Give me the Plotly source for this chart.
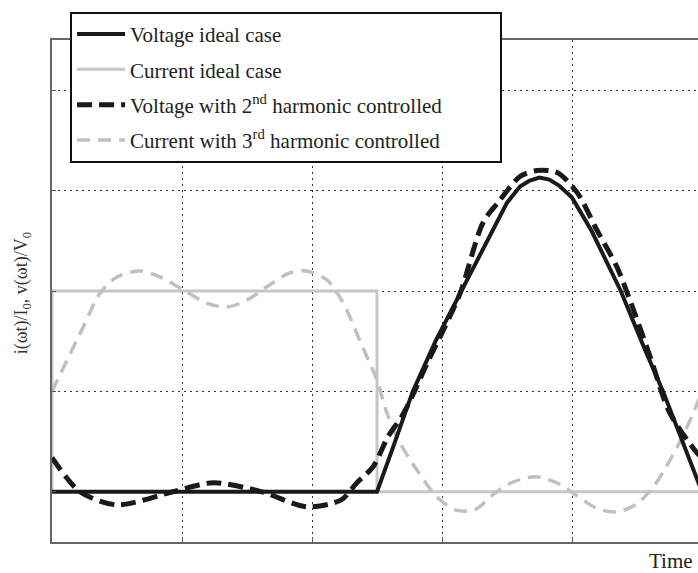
import plotly.graph_objects as go

# Time axis in arbitrary units (one period = 10), values normalised
v_ideal_x = [0, 5.0, 5.25, 5.55, 5.9, 6.3, 6.7, 7.0, 7.2, 7.35, 7.5, 7.65, 7.8, 8.0, 8.3, 8.75, 9.1, 9.4, 9.7, 10]
v_ideal_y = [0, 0, 0.45, 1.0, 1.5, 2.0, 2.5, 2.88, 3.04, 3.1, 3.13, 3.11, 3.05, 2.93, 2.6, 2.0, 1.45, 1.0, 0.5, 0]

i_ideal_x = [0, 0, 5.0, 5.0, 10]
i_ideal_y = [0, 2, 2, 0, 0]

v_h2_x = [0, 0.43, 1.0, 1.86, 2.48, 3.23, 3.92, 4.45, 4.69, 4.94, 5.17, 5.38, 5.54, 5.77, 6.02, 6.28,
          6.63, 6.86, 7.2, 7.46, 7.77, 8.08, 8.38, 8.69, 8.85, 9.2, 9.5, 9.92, 10]
v_h2_y = [0.34, 0.0, -0.13, 0.0, 0.09, 0.0, -0.15, -0.08, 0.09, 0.25, 0.55, 0.75, 0.95, 1.28, 1.61, 1.98,
          2.68, 2.88, 3.14, 3.2, 3.18, 2.98, 2.61, 2.24, 1.98, 1.35, 0.79, 0.39, 0.34]

i_h3_x = [0, 0.23, 0.48, 0.74, 1.0, 1.35, 1.66, 2.02, 2.38, 2.69, 3.0, 3.3, 3.66, 3.92, 4.23, 4.48, 4.78,
          5.0, 5.15, 5.35, 5.61, 5.92, 6.2, 6.5, 6.8, 7.1, 7.45, 7.8, 8.05, 8.4, 8.7, 9.0, 9.25, 9.45, 9.7, 9.94, 10]
i_h3_y = [1.0, 1.31, 1.64, 1.98, 2.14, 2.2, 2.14, 2.01, 1.88, 1.84, 1.91, 2.04, 2.18, 2.2, 2.11, 1.88, 1.44,
          1.11, 0.79, 0.49, 0.22, -0.05, -0.18, -0.18, -0.02, 0.1, 0.15, 0.08, -0.03, -0.17, -0.2, -0.12, 0.05, 0.25, 0.55, 0.9, 1.0]

names = ["Voltage ideal case", "Current ideal case",
         "Voltage with 2<sup>nd</sup> harmonic controlled" + "&nbsp;" * 10,
         "Current with 3<sup>rd</sup> harmonic controlled"]

fig = go.Figure()
# draw order: currents below voltages, legend order as in reference
fig.add_trace(go.Scatter(x=i_ideal_x, y=i_ideal_y, mode="lines", name=names[1], legendrank=2, legendgroup="b",
                         line=dict(color="#c6c6c6", width=3)))
fig.add_trace(go.Scatter(x=i_h3_x, y=i_h3_y, mode="lines", name=names[3], legendrank=4, legendgroup="d",
                         line=dict(color="#c0c0c0", width=3.5, dash="13px,8px", shape="spline", smoothing=0.8)))
fig.add_trace(go.Scatter(x=v_ideal_x, y=v_ideal_y, mode="lines", name=names[0], legendrank=1, legendgroup="a",
                         line=dict(color="#1a1a1a", width=4)))
fig.add_trace(go.Scatter(x=v_h2_x, y=v_h2_y, mode="lines", name=names[2], legendrank=3, legendgroup="c",
                         line=dict(color="#1a1a1a", width=5, dash="15px,7px", shape="spline", smoothing=0.8)))

fig.update_layout(
    width=698, height=573,
    margin=dict(l=52, r=0, t=40, b=31),
    paper_bgcolor="white", plot_bgcolor="white",
    font=dict(family="Liberation Serif", color="#222"),
    showlegend=True,
    legend=dict(x=0.028, y=1.056, xanchor="left", yanchor="top",
                bgcolor="white", bordercolor="#111", borderwidth=2,
                font=dict(family="Liberation Serif", size=21, color="#222"),
                tracegroupgap=5, itemwidth=48, traceorder="grouped"),
    xaxis=dict(range=[0, 9.938], dtick=2, tick0=0, showgrid=True, gridcolor="#333", gridwidth=1,
               griddash="2px,4px", showticklabels=False, ticks="inside", ticklen=5, tickcolor="#555",
               showline=True, linecolor="#666", linewidth=1.5, mirror=True, zeroline=False),
    yaxis=dict(range=[-0.5, 4.5], dtick=1, tick0=0, showgrid=True, gridcolor="#333", gridwidth=1,
               griddash="2px,4px", showticklabels=False, ticks="inside", ticklen=4, tickcolor="#555",
               showline=True, linecolor="#666", linewidth=1.5, zeroline=False),
    annotations=[
        dict(text="i(ωt)/I<sub>0</sub>, v(ωt)/V<sub>0</sub>", xref="paper", yref="paper",
             x=-0.046, y=0.496, textangle=-90, showarrow=False, xanchor="center", yanchor="middle",
             font=dict(family="Liberation Serif", size=18, color="#333")),
        dict(text="Time", xref="paper", yref="paper", x=0.995, y=-0.038, showarrow=False,
             xanchor="right", yanchor="middle",
             font=dict(family="Liberation Serif", size=21, color="#222")),
    ],
)

fig.write_html("out.html")
